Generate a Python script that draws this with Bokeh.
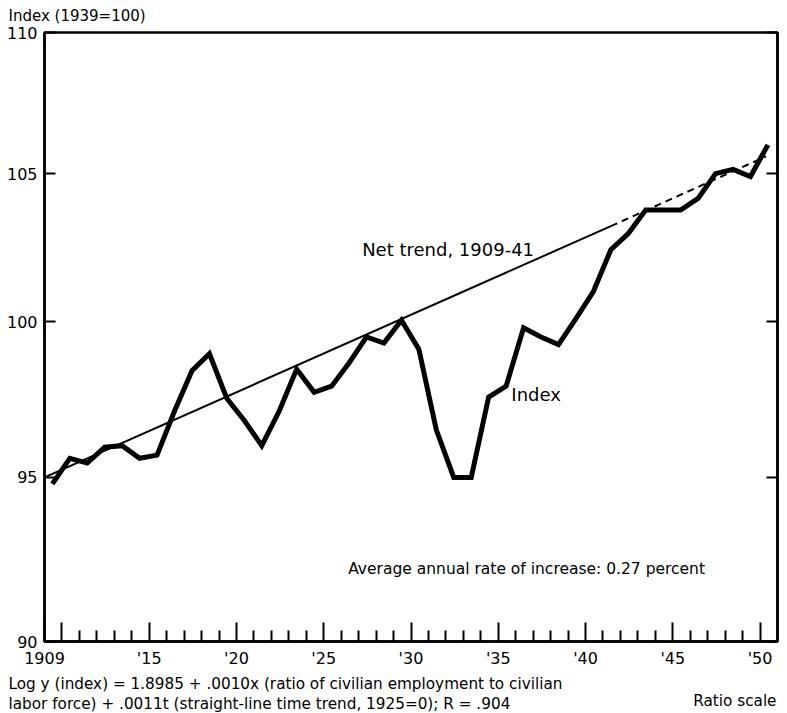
from bokeh.plotting import figure
from bokeh.models import FixedTicker, LogAxis, Label, Title
from bokeh.embed import file_html
from bokeh.resources import INLINE

# ---------------- data ----------------
years = list(range(1909, 1951))
index_values = [
    94.8, 95.6, 95.45, 95.95, 96.0, 95.6, 95.7, 97.1, 98.4, 98.95,
    97.5, 96.8, 96.0, 97.1, 98.45, 97.7, 97.9, 98.65, 99.5, 99.3,
    100.05, 99.1, 96.5, 95.0, 95.0, 97.55, 97.9, 99.8, 99.5, 99.25,
    100.1, 101.0, 102.4, 102.95, 103.75, 103.75, 103.75, 104.15, 105.0, 105.15,
    104.9, 106.0,
]
trend_fit_x = [1909.0, 1941.45]          # net trend 1909-41 (fitted)
trend_fit_y = [95.0, 103.2]
trend_ext_x = [1941.45, 1950.35]         # extrapolation
trend_ext_y = [103.2, 105.6]

y_ticks = [90, 95, 100, 105, 110]
y_tick_labels = ["90", "95", "100", "105", "110"]
x_major = [1909, 1910, 1915, 1920, 1925, 1930, 1935, 1940, 1945, 1950]
x_labels = ["1909", "", "'15", "'20", "'25", "'30", "'35", "'40", "'45", "'50"]
x_minor = [y for y in range(1910, 1951) if y % 5 != 0]

title_text = "Index (1939=100)"
note_line1 = "Log y (index) = 1.8985 + .0010x (ratio of civilian employment to civilian"
note_line2 = "labor force) + .0011t (straight-line time trend, 1925=0);  R = .904"
scale_note = "Ratio scale"

MID = 0.45  # values plotted at mid-year
FONT = "DejaVu Sans"

p = figure(width=787, height=713, x_range=(1909, 1951), y_range=(90, 110),
           y_axis_type="log", output_backend="svg", toolbar_location=None,
           min_border_left=44, min_border_right=10, min_border_top=32,
           min_border_bottom=72, background_fill_color="white",
           border_fill_color="white")
p.grid.visible = False
p.outline_line_color = "black"
p.outline_line_width = 2.5

# title above the frame
p.title.text = title_text
p.title.align = "left"
p.title.vertical_align = "top"
p.title.offset = -36
p.title.standoff = 10.5
p.title.text_font = FONT
p.title.text_font_size = "15px"
p.title.text_font_style = "normal"
p.title.text_color = "black"

xa = p.xaxis[0]
xa.ticker = FixedTicker(ticks=x_major, minor_ticks=x_minor)
xa.major_label_overrides = {k: v for k, v in zip(x_major, x_labels)}
xa.major_tick_in = 19
xa.major_tick_out = 0
xa.minor_tick_in = 11
xa.minor_tick_out = 0
xa.major_tick_line_width = 2
xa.minor_tick_line_width = 2
xa.axis_line_width = 2.5
xa.major_label_standoff = 7
xa.major_label_text_font = FONT
xa.major_label_text_font_size = "16px"
xa.major_label_text_color = "black"

ya = p.yaxis[0]
ya.ticker = FixedTicker(ticks=y_ticks, minor_ticks=[])
ya.major_label_overrides = {k: v for k, v in zip(y_ticks, y_tick_labels)}
ya.major_tick_in = 11
ya.major_tick_out = 0
ya.major_tick_line_width = 2
ya.axis_line_width = 2.5
ya.major_label_standoff = 7
ya.major_label_text_font = FONT
ya.major_label_text_font_size = "16px"
ya.major_label_text_color = "black"

ra = LogAxis(ticker=FixedTicker(ticks=y_ticks, minor_ticks=[]),
             major_label_overrides={k: "" for k in y_ticks},
             major_tick_in=11, major_tick_out=0, major_tick_line_width=2,
             axis_line_width=2.5, major_label_text_font_size="1px",
             major_label_standoff=0)
p.add_layout(ra, "right")

xs = [y + MID for y in years]
p.line(trend_fit_x, trend_fit_y, line_width=2, color="black")
p.line(trend_ext_x, trend_ext_y, line_width=2, color="black", line_dash="7 5")
p.line(xs, index_values, line_width=5, color="black", line_join="miter")


def add_label(x, y, text, size):
    p.add_layout(Label(x=x, y=y, text=text, text_font=FONT,
                       text_font_size=size, text_color="black",
                       text_align="left", text_baseline="middle"))


add_label(1927.2, 102.42, "Net trend, 1909-41", "18px")
add_label(1935.75, 97.63, "Index", "18px")
add_label(1926.4, 92.19, "Average annual rate of increase: 0.27 percent", "15.5px")


def note(text, align, offset, standoff):
    p.add_layout(Title(text=text, align=align, vertical_align="top",
                       offset=offset, standoff=standoff, text_font=FONT,
                       text_font_size="15.25px", text_font_style="normal",
                       text_color="black"), "below")


note(note_line1, "left", -36, 8.5)
note(note_line2, "left", -36, -9.5)
note(scale_note, "right", 1, -37.5)

open("out.html", "w").write(file_html(p, INLINE))
